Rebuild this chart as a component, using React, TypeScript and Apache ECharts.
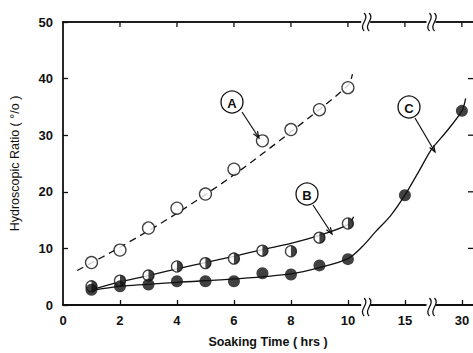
import React, { useEffect, useRef } from "react";
import * as echarts from "echarts";

// Reference data (hours, hydroscopic ratio %)
const hoursA = [1, 2, 3, 4, 5, 6, 7, 8, 9, 10];
const ratioA = [7.5, 9.7, 13.6, 17.1, 19.6, 24.0, 29.0, 31.0, 34.5, 38.4];
const hoursB = [1, 2, 3, 4, 5, 6, 7, 8, 9, 10];
const ratioB = [3.3, 4.3, 5.2, 6.8, 7.4, 8.2, 9.6, 9.5, 11.9, 14.4];
const hoursC = [1, 2, 3, 4, 5, 6, 7, 8, 9, 10, 15, 30];
const ratioC = [2.7, 3.3, 3.6, 4.2, 4.2, 4.2, 5.6, 5.4, 7.0, 8.1, 19.4, 34.3];

// Fitted curves
const fitHoursA = [0.5, 2, 4, 6, 8, 10, 10.4];
const fitA = [6.1, 10.2, 16.2, 23.0, 30.6, 38.8, 40.8];
const fitHoursB = [1, 2, 3, 4, 5, 6, 7, 8, 9, 10, 10.5];
const fitB = [2.7, 4.1, 5.2, 6.4, 7.5, 8.6, 9.8, 10.9, 12.3, 14.2, 15.6];
const fitHoursC = [1, 2, 4, 6, 8, 9, 10, 11.25, 12.45, 13.75, 15, 18.75, 22, 26, 30, 31];
const fitC = [2.6, 3.3, 4.0, 4.6, 5.5, 6.6, 8.2, 10.3, 13.0, 15.8, 19.4, 23.7, 27.5, 30.7, 34.3, 36.5];

const tickHours = [0, 2, 4, 6, 8, 10, 15, 30];
const edgeTickHours = [2, 4, 6, 8, 10, 15, 30];
const rightTickValues = [10, 20, 30, 40];
const breakHours = [11.6, 22];

// Broken time axis: 0-10 linear, 10-15 compressed, 15-30 compressed
function pos(h: number): number {
  if (h <= 10) return h;
  if (h <= 15) return 10 + ((h - 10) * 2) / 5;
  return 12 + ((h - 15) * 2) / 15;
}
function hourLabel(p: number): string {
  const i = tickHours.findIndex((h) => Math.abs(pos(h) - p) < 1e-6);
  return i >= 0 ? String(tickHours[i]) : "";
}

const pts = (hs: number[], vs: number[]) => hs.map((h, i) => [pos(h), vs[i]]);

const FONT = "Liberation Sans";
const black = "#111";

// plot frame in pixels (matches grid below)
const LEFT = 62;
const TOP = 22;
const RIGHT_EDGE = 473;
const BOTTOM = 307;

function squiggle(cx: number, cy: number) {
  const s = (x: number) => ({
    type: "bezierCurve",
    shape: {
      x1: x + 1, y1: cy - 9,
      cpx1: x + 7, cpy1: cy - 3,
      cpx2: x - 5, cpy2: cy + 3,
      x2: x + 1, y2: cy + 9,
    },
    style: { stroke: black, lineWidth: 1.3, fill: null },
    z: 101,
  });
  return [
    { type: "rect", shape: { x: cx - 2, y: cy - 3, width: 9, height: 6 }, style: { fill: "#fff" }, z: 100 },
    s(cx),
    s(cx + 5),
  ];
}

function annotation(label: string, cx: number, cy: number, x1: number, y1: number, x2: number, y2: number) {
  const ang = Math.atan2(y2 - y1, x2 - x1);
  const L = 7;
  const w = 0.35;
  const a1 = [x2 - L * Math.cos(ang - w), y2 - L * Math.sin(ang - w)];
  const a2 = [x2 - L * Math.cos(ang + w), y2 - L * Math.sin(ang + w)];
  return [
    { type: "circle", shape: { cx, cy, r: 11 }, style: { fill: "#fff", stroke: black, lineWidth: 1.3 }, z: 100 },
    {
      type: "text",
      x: cx, y: cy + 1,
      style: { text: label, fill: black, font: `bold 13px "${FONT}"`, align: "center", verticalAlign: "middle" },
      z: 101,
    },
    { type: "line", shape: { x1, y1, x2, y2 }, style: { stroke: black, lineWidth: 1.2 }, z: 100 },
    { type: "polyline", shape: { points: [a1, [x2, y2], a2] }, style: { stroke: black, lineWidth: 1.2, fill: null }, z: 100 },
  ];
}

export default function App() {
  const ref = useRef<HTMLDivElement>(null);
  useEffect(() => {
    if (!ref.current) return;
    const chart = echarts.init(ref.current, null, { renderer: "svg" });
    const tickPos = tickHours.map(pos);
    const edgePos = edgeTickHours.map(pos);
    chart.setOption({
      animation: false,
      backgroundColor: "#fff",
      grid: { left: LEFT, right: -2, top: TOP, bottom: 353 - BOTTOM },
      xAxis: {
        type: "value",
        min: 0,
        max: 14.39,
        splitLine: { show: false },
        name: "Soaking Time ( hrs )",
        nameLocation: "middle",
        nameGap: 30,
        nameTextStyle: { fontFamily: FONT, fontWeight: "bold", fontSize: 12.5, color: black },
        axisLine: { show: true, onZero: false, lineStyle: { color: black, width: 1.8 } },
        axisTick: { show: true, inside: true, length: 5, lineStyle: { color: black, width: 1.3 }, customValues: edgePos },
        axisLabel: {
          show: true,
          customValues: tickPos,
          formatter: (v: number) => hourLabel(v),
          fontFamily: FONT,
          fontWeight: "bold",
          fontSize: 13,
          color: black,
          margin: 9,
        },
      },
      yAxis: {
        type: "value",
        min: 0,
        max: 50,
        interval: 10,
        splitLine: { show: false },
        name: "Hydroscopic Ratio ( °/o )",
        nameLocation: "middle",
        nameGap: 42,
        nameTextStyle: { fontFamily: FONT, fontSize: 12.5, color: black },
        axisLine: { show: true, onZero: false, lineStyle: { color: black, width: 1.8 } },
        axisTick: { show: true, inside: true, length: 5, lineStyle: { color: black, width: 1.3 } },
        axisLabel: { fontFamily: FONT, fontWeight: "bold", fontSize: 13, color: black, margin: 10 },
      },
      series: [
        {
          name: "A fit",
          type: "line",
          data: pts(fitHoursA, fitA),
          smooth: 0.3,
          showSymbol: false,
          lineStyle: { color: black, width: 1.3, type: [7, 5] },
          z: 2,
          markLine: {
            silent: true,
            symbol: "none",
            label: { show: false },
            lineStyle: { color: black, width: 1.5, type: "solid" },
            data: [{ yAxis: 50 }],
          },
        },
        {
          name: "B fit",
          type: "line",
          data: pts(fitHoursB, fitB),
          smooth: 0.3,
          showSymbol: false,
          lineStyle: { color: black, width: 1.3 },
          z: 2,
        },
        {
          name: "C fit",
          type: "line",
          data: pts(fitHoursC, fitC),
          smooth: 0.3,
          showSymbol: false,
          lineStyle: { color: black, width: 1.3 },
          z: 2,
        },
        {
          name: "A",
          type: "scatter",
          data: pts(hoursA, ratioA),
          symbol: "circle",
          symbolSize: 12,
          itemStyle: { color: "#fff", borderColor: black, borderWidth: 1.3 },
          z: 3,
        },
        {
          name: "B",
          type: "scatter",
          data: pts(hoursB, ratioB),
          symbol: "circle",
          symbolSize: 11,
          itemStyle: { color: "#fff", borderColor: black, borderWidth: 1.3 },
          z: 3,
        },
        {
          name: "B half",
          type: "scatter",
          data: pts(hoursB, ratioB),
          symbol: "path://M0,0 A10,10 0 0,1 0,20 Z",
          symbolSize: [5.5, 11],
          symbolOffset: [2.75, 0],
          itemStyle: { color: black },
          z: 4,
        },
        {
          name: "C",
          type: "scatter",
          data: pts(hoursC, ratioC),
          symbol: "circle",
          symbolSize: 12,
          itemStyle: { color: black },
          z: 5,
        },
      ],
    });

    const toX = (p: number) => Number(chart.convertToPixel({ xAxisIndex: 0 }, p));
    const toY = (v: number) => Number(chart.convertToPixel({ yAxisIndex: 0 }, v));
    const g: any[] = [];
    // top frame line
    g.push({ type: "polyline", shape: { points: [[LEFT, TOP], [RIGHT_EDGE, TOP]] }, style: { stroke: black, lineWidth: 1.5, fill: null }, z: 98 });
    edgePos.forEach((p) => {
      const x = toX(p);
      g.push({ type: "polyline", shape: { points: [[x, TOP], [x, TOP + 5]] }, style: { stroke: black, lineWidth: 1.3, fill: null }, z: 99 });
    });
    rightTickValues.forEach((v) => {
      const y = toY(v);
      g.push({ type: "polyline", shape: { points: [[RIGHT_EDGE - 5, y], [RIGHT_EDGE, y]] }, style: { stroke: black, lineWidth: 1.3, fill: null }, z: 99 });
    });
    breakHours.forEach((h) => {
      const x = toX(pos(h));
      g.push(...squiggle(x - 3, BOTTOM), ...squiggle(x - 3, TOP));
    });
    g.push(
      ...annotation("A", 232, 102, 242, 112, 259, 138),
      ...annotation("B", 307, 194, 313, 205, 332, 234),
      ...annotation("C", 409, 107, 415, 118, 435, 152)
    );
    chart.setOption({ graphic: g });
    return () => chart.dispose();
  }, []);
  return (
    <div
      ref={ref}
      style={{ position: "absolute", left: 0, top: 0, width: 473, height: 353 }}
    />
  );
}
